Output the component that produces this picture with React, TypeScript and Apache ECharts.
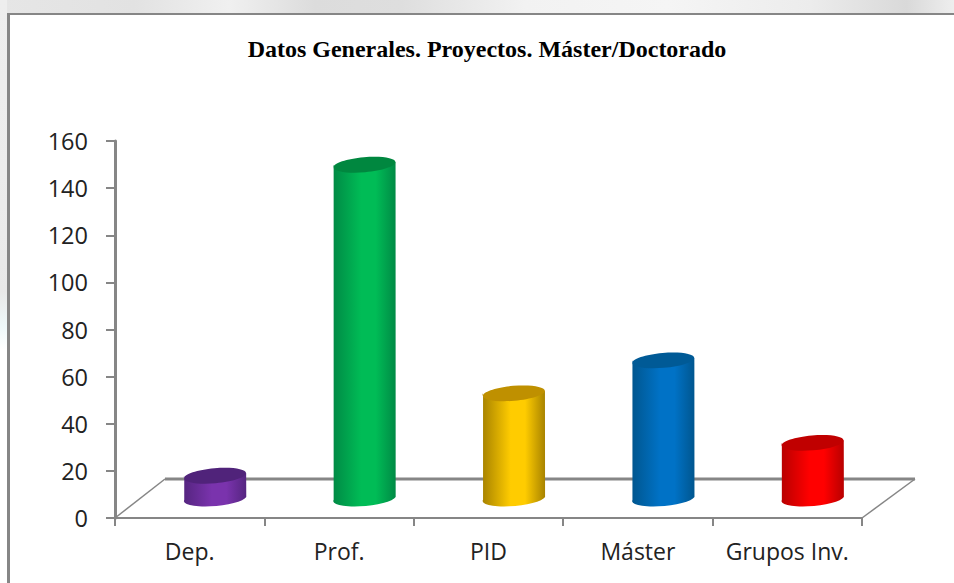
import React, { useEffect, useRef } from "react";
import * as echarts from "echarts";

const titleText = "Datos Generales. Proyectos. Máster/Doctorado";
const categories = ["Dep.", "Prof.", "PID", "Máster", "Grupos Inv."];
const values = [9, 141, 44, 58, 23];
const sideDark = ["#552580", "#008a45", "#a88300", "#00568f", "#b80000"];
const sideLight = ["#7a33ad", "#00bc56", "#ffcc00", "#0072c6", "#ff0000"];
const topColors = ["#50237a", "#00873f", "#bf9000", "#005a96", "#c00000"];
const yTicks = { min: 0, max: 160, interval: 20 };
const axisGrey = "#868686";

function cylinder(params: any, api: any) {
  const i = api.value(0);
  const base = api.coord([i, 0]);
  const top = api.coord([i, api.value(1)]);
  const band = api.size([1, 0])[0];
  const cx = base[0] + 25.5;
  const yb = base[1] - 21;
  const yt = top[1] - 21;
  const rx = band * 0.208;
  const ry = 7.5;
  const deg = 5;
  const rad = (deg * Math.PI) / 180;
  const dx = rx * Math.cos(rad);
  const dy = rx * Math.sin(rad);
  const d =
    `M ${cx - dx} ${yt + dy} L ${cx - dx} ${yb + dy} ` +
    `A ${rx} ${ry} ${-deg} 0 0 ${cx + dx} ${yb - dy} ` +
    `L ${cx + dx} ${yt - dy} ` +
    `A ${rx} ${ry} ${-deg} 0 1 ${cx - dx} ${yt + dy} Z`;
  const gradient = new echarts.graphic.LinearGradient(0, 0, 1, 0, [
    { offset: 0, color: sideDark[i] },
    { offset: 0.45, color: sideLight[i] },
    { offset: 0.68, color: sideLight[i] },
    { offset: 1, color: sideDark[i] },
  ]);
  return {
    type: "group",
    children: [
      { type: "path", shape: { pathData: d }, style: { fill: gradient, stroke: null } },
      {
        type: "ellipse",
        originX: cx,
        originY: yt,
        rotation: rad,
        shape: { cx, cy: yt, rx, ry },
        style: { fill: topColors[i] },
      },
    ],
  };
}

function floor(params: any, api: any) {
  const a = api.coord([0, 0]);
  const band = api.size([1, 0])[0];
  const x0 = a[0] - band / 2;
  const y0 = a[1];
  const x1 = x0 + band * categories.length;
  const dx = 50;
  const dy = 39;
  const line = (x: number, y: number, u: number, v: number, w: number) => ({
    type: "line",
    shape: { x1: x, y1: y, x2: u, y2: v },
    style: { stroke: axisGrey, lineWidth: w },
  });
  return {
    type: "group",
    children: [
      line(x0, y0, x0 + dx, y0 - dy, 1.5),
      line(x0 + dx, y0 - dy, x1 + dx + 3, y0 - dy, 3),
      line(x1, y0, x1 + dx + 3, y0 - dy, 1.5),
    ],
  };
}

export default function App() {
  const ref = useRef<HTMLDivElement>(null);
  useEffect(() => {
    document.body.style.margin = "0";
    const chart = echarts.init(ref.current!, null, { renderer: "svg" });
    chart.setOption({
      animation: false,
      backgroundColor: "#ffffff",
      title: {
        text: titleText,
        left: 482,
        top: 32,
        textAlign: "center",
        textStyle: { fontFamily: "Liberation Serif", fontWeight: "bold", fontSize: 24, color: "#000000" },
      },
      graphic: [
        {
          type: "rect",
          shape: { x: 0, y: 0, width: 954, height: 13 },
          silent: true,
          style: {
            fill: new echarts.graphic.LinearGradient(0, 0, 1, 0, [
              { offset: 0, color: "#e6e6e6" },
              { offset: 0.14, color: "#e2e2e2" },
              { offset: 0.24, color: "#f0f0f0" },
              { offset: 0.33, color: "#dcdcdc" },
              { offset: 0.42, color: "#dedede" },
              { offset: 0.55, color: "#f2f2f2" },
              { offset: 0.7, color: "#f5f5f5" },
              { offset: 0.85, color: "#ececec" },
              { offset: 0.95, color: "#d9d9d9" },
              { offset: 1, color: "#eeeeee" },
            ]),
          },
        },
        {
          type: "rect",
          shape: { x: 0, y: 0, width: 7, height: 583 },
          silent: true,
          style: {
            fill: new echarts.graphic.LinearGradient(0, 0, 0, 1, [
              { offset: 0, color: "#eeeeee" },
              { offset: 0.3, color: "#ececec" },
              { offset: 0.5, color: "#e8e8e8" },
              { offset: 0.56, color: "#eef8fa" },
              { offset: 0.6, color: "#ffffff" },
              { offset: 1, color: "#ffffff" },
            ]),
          },
        },
        { type: "line", shape: { x1: 7, y1: 14, x2: 954, y2: 14 }, style: { stroke: axisGrey, lineWidth: 2 }, silent: true },
        { type: "line", shape: { x1: 8.5, y1: 13, x2: 8.5, y2: 583 }, style: { stroke: axisGrey, lineWidth: 3 }, silent: true },
      ],
      grid: { left: 115, right: 92, top: 141, bottom: 65, containLabel: false },
      xAxis: {
        type: "category",
        data: categories,
        axisLine: { show: true, lineStyle: { color: axisGrey, width: 2 } },
        axisTick: { show: true, length: 8, alignWithLabel: false, lineStyle: { color: axisGrey, width: 2 } },
        axisLabel: { color: "#222222", fontFamily: "Open Sans", fontSize: 23, margin: 21, interval: 0 },
      },
      yAxis: {
        type: "value",
        min: yTicks.min,
        max: yTicks.max,
        interval: yTicks.interval,
        splitLine: { show: false },
        axisLine: { show: true, lineStyle: { color: axisGrey, width: 3 } },
        axisTick: { show: true, length: 9, lineStyle: { color: axisGrey, width: 2 } },
        axisLabel: { color: "#222222", fontFamily: "Open Sans", fontSize: 23.5, margin: 27 },
      },
      series: [
        { type: "custom", coordinateSystem: "cartesian2d", renderItem: floor, data: [[0, 0]], z: 1, silent: true },
        {
          type: "custom",
          coordinateSystem: "cartesian2d",
          renderItem: cylinder,
          data: values.map((v, i) => [i, v]),
          encode: { x: 0, y: 1 },
          z: 2,
        },
      ],
    });
    return () => chart.dispose();
  }, []);
  return <div ref={ref} style={{ width: 954, height: 583 }} />;
}
